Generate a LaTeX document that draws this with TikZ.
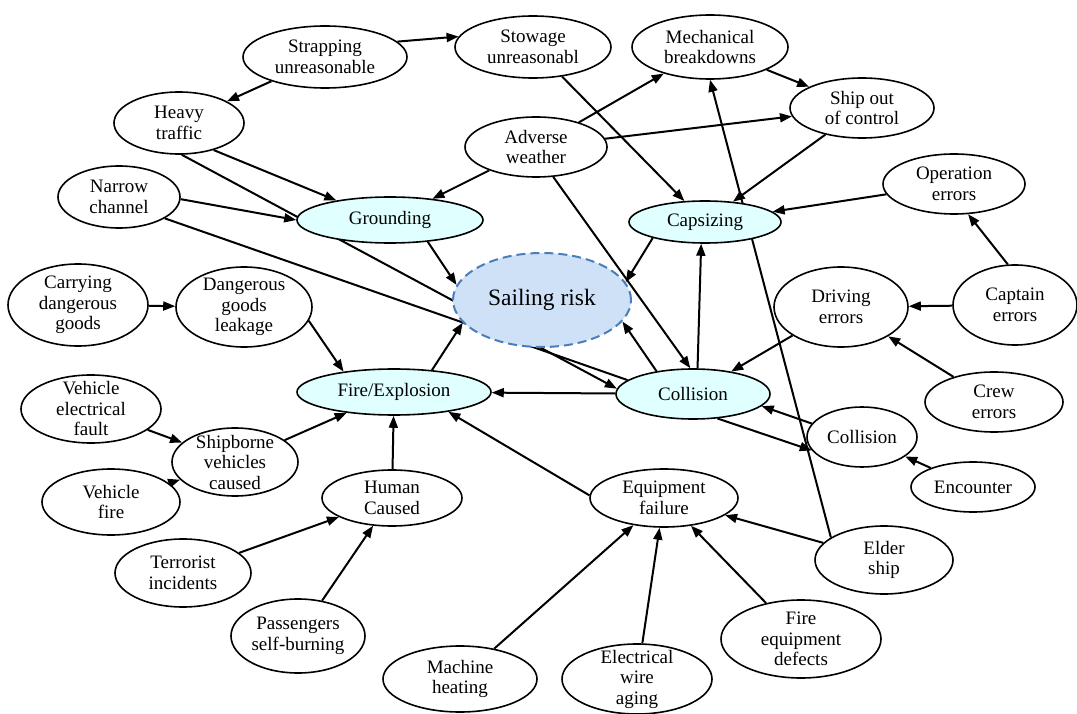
\documentclass[tikz,border=0pt]{standalone}
\usepackage{fontspec}
\setmainfont{Liberation Serif}
\usetikzlibrary{shapes.geometric,arrows.meta}
\pgfdeclarelayer{bg}
\pgfsetlayers{bg,main}
\definecolor{primfill}{HTML}{E0FFFF}
\definecolor{riskfill}{HTML}{CFE1F7}
\definecolor{riskline}{HTML}{4A7EBB}
\tikzset{
  sz/.style 2 args={minimum width=#1pt, minimum height=#2pt},
  ev/.style={ellipse, draw=black, line width=1.6pt, fill=white, inner xsep=-14pt, inner ysep=-16pt,
    align=center, font=\fontsize{19}{20.5}\selectfont},
  pri/.style={ev, fill=primfill},
  risk/.style={ellipse, draw=riskline, fill=riskfill, line width=2pt, dash pattern=on 9pt off 5pt,
    inner sep=-10pt, align=center, font=\fontsize{23.5}{26}\selectfont},
  conn/.style={line width=2pt, -{Triangle[length=12pt,width=9pt]}},
  plainconn/.style={line width=2pt}
}
\begin{document}
\begin{tikzpicture}[x=1pt,y=-1pt]
\useasboundingbox (0,0) rectangle (1077,714);
\node[ev,sz={164}{62}] (strap) at (325,57) {Strapping\\unreasonable};
\node[ev,sz={156}{62}] (stow) at (533,47) {Stowage\\unreasonabl};
\node[ev,sz={156}{64}] (mech) at (710,47) {Mechanical\\breakdowns};
\node[ev,sz={130}{62}] (heavy) at (179,123) {Heavy\\traffic};
\node[ev,sz={144}{60}] (shipout) at (862,108) {Ship out\\of control};
\node[ev,sz={142}{60}] (adverse) at (536,147) {Adverse\\weather};
\node[ev,sz={122}{62}] (narrow) at (119,197) {Narrow\\channel};
\node[pri,sz={186}{46}] (ground) at (390,220) {Grounding};
\node[pri,sz={152}{42}] (caps) at (705,222) {Capsizing};
\node[ev,sz={142}{60}] (oper) at (954,184) {Operation\\errors};
\node[risk,sz={178}{94}] (sail) at (542,300) {Sailing risk};
\node[ev,sz={140}{82}] (carry) at (78,305) {Carrying\\dangerous\\goods};
\node[ev,sz={136}{80}] (dgl) at (244,307) {Dangerous\\goods\\leakage};
\node[ev,sz={134}{80}] (drive) at (841,307) {Driving\\errors};
\node[ev,sz={124}{80}] (captain) at (1015,305) {Captain\\errors};
\node[pri,sz={194}{46}] (fire) at (394,392) {Fire/Explosion};
\node[pri,sz={154}{50}] (coll) at (693,394) {Collision};
\node[ev,sz={138}{60}] (crew) at (994,402) {Crew\\errors};
\node[ev,sz={140}{68}] (vef) at (91,409) {Vehicle\\electrical\\fault};
\node[ev,sz={110}{60}] (coll2) at (862,437) {Collision};
\node[ev,sz={126}{68}] (shipv) at (235,462) {Shipborne\\vehicles\\caused};
\node[ev,sz={124}{50}] (enc) at (973,487) {Encounter};
\node[ev,sz={138}{66}] (vfire) at (111,502) {Vehicle\\fire};
\node[ev,sz={140}{56}] (human) at (392,498) {Human\\Caused};
\node[ev,sz={148}{58}] (equip) at (664,498) {Equipment\\failure};
\node[ev,sz={138}{68}] (elder) at (884,560) {Elder\\ship};
\node[ev,sz={136}{68}] (terror) at (183,573) {Terrorist\\incidents};
\node[ev,sz={134}{74}] (pass) at (298,636) {Passengers\\self-burning};
\node[ev,sz={160}{78}] (fed) at (801,639) {Fire\\equipment\\defects};
\node[ev,sz={154}{66}] (mach) at (460,679) {Machine\\heating};
\node[ev,sz={150}{70}] (elec) at (637,679) {Electrical\\wire\\aging};
\begin{pgfonlayer}{bg}
\fill[white] (0,0) rectangle (1077,714);
\draw[conn] (strap) -- (heavy);
\draw[conn] (strap.12) -- (stow.172);
\draw[conn] (heavy.-38) -- (ground.160);
\draw[conn] (heavy.-85) -- (coll.176);
\draw[conn] (narrow.-2) -- (ground.180);
\draw[plainconn] (narrow.-25) -- (coll.168);
\draw[conn] (adverse) -- (ground);
\draw[conn] (adverse) -- (mech);
\draw[conn] (adverse) -- (shipout);
\draw[conn] (adverse.-60) -- (coll.96);
\draw[conn] (stow) -- (caps);
\draw[conn] (mech) -- (shipout);
\draw[conn] (shipout) -- (caps);
\draw[conn] (oper) -- (caps);
\draw[conn] (elder.157) -- (mech.-90);
\draw[conn] (caps.197) -- (sail.12);
\draw[conn] (coll.80) -- (caps.-100);
\draw[conn] (coll.148) -- (sail.-15);
\draw[conn] (coll) -- (fire);
\draw[conn] (fire.30) -- (sail.196);
\draw[conn] (ground.-30) -- (sail.170);
\draw[conn] (drive) -- (coll);
\draw[conn] (captain) -- (drive);
\draw[conn] (captain.100) -- (oper.-65);
\draw[conn] (crew) -- (drive);
\draw[conn] (coll2.165) -- (coll.-10);
\draw[conn] (coll.-45) -- (coll2.195);
\draw[conn] (enc) -- (coll2);
\draw[conn] (dgl.-12) -- (fire.158);
\draw[conn] (carry) -- (dgl);
\draw[conn] (vef) -- (shipv);
\draw[conn] (vfire) -- (shipv);
\draw[conn] (shipv) -- (fire);
\draw[conn] (human) -- (fire);
\draw[conn] (terror) -- (human);
\draw[conn] (pass) -- (human);
\draw[conn] (equip.178) -- (fire.-20);
\draw[conn] (mach) -- (equip);
\draw[conn] (elec) -- (equip);
\draw[conn] (fed) -- (equip);
\draw[conn] (elder) -- (equip);
\end{pgfonlayer}
\end{tikzpicture}
\end{document}
